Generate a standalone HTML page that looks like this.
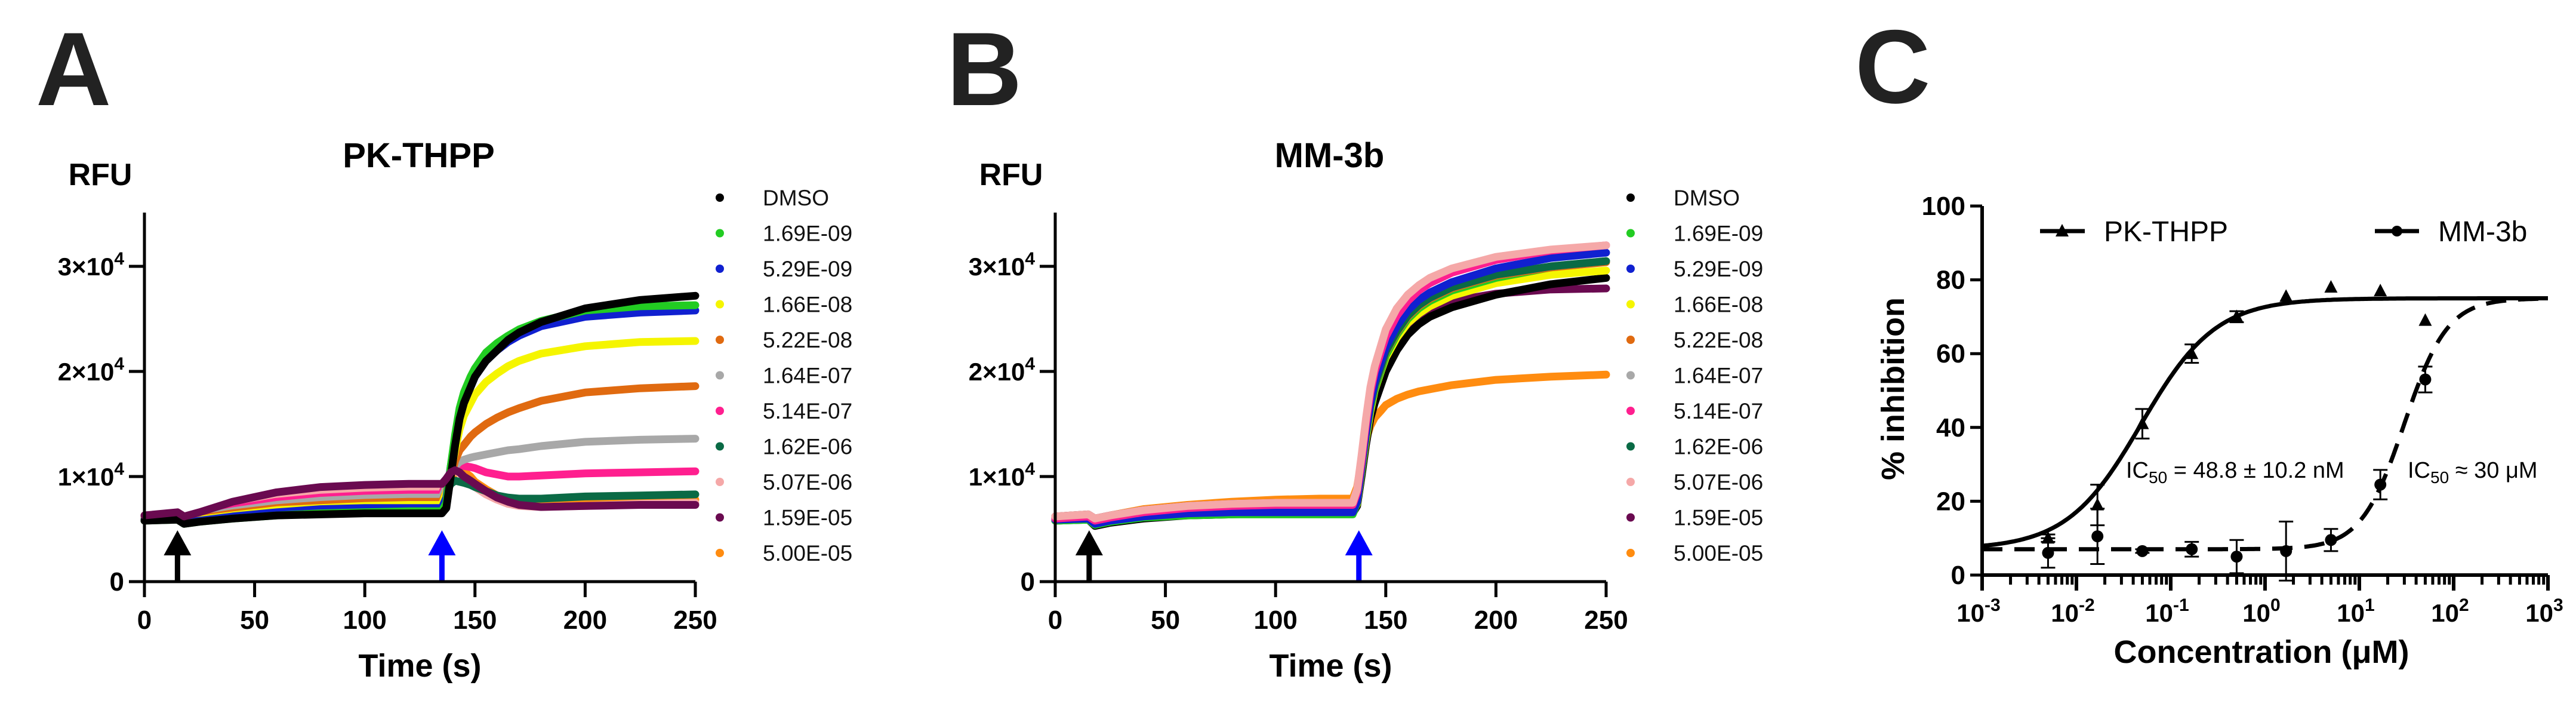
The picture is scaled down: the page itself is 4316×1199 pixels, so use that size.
<!DOCTYPE html>
<html><head><meta charset="utf-8">
<style>
html,body{margin:0;padding:0;background:#fff;}
svg{display:block;}
text{font-family:"Liberation Sans",Arial,sans-serif;}
</style></head>
<body>
<svg id="fig" width="4316" height="1199" viewBox="0 0 4316 1199" xmlns="http://www.w3.org/2000/svg">
<rect width="4316" height="1199" fill="#fff"/>
<g id="panelA"></g>
<g id="panelB"></g>
<g id="panelC"></g>
</svg>
<script>
// ---- Panels A/B data (RFU in thousands) ----
const times = [0,15,18,25,40,60,80,100,120,135,137,139,141,143,145,148,150,155,160,165,170,180,200,225,250];
const legendLabels = ["DMSO","1.69E-09","5.29E-09","1.66E-08","5.22E-08","1.64E-07","5.14E-07","1.62E-06","5.07E-06","1.59E-05","5.00E-05"];
const seriesColors = ["#000000","#22cc22","#1020d0","#f5f500","#e06a10","#a8a8a8","#ff1f8f","#0a6a45","#f5a8a8","#6a0a50","#ff8c10"];
const yTicksRFU = [0,1,2,3];
const xTicksTime = [0,50,100,150,200,250];
// Panel A series
const aDMSO = [5.8,5.9,5.5,5.7,6.0,6.3,6.4,6.5,6.5,6.5,7.0,10,13,15.5,17,18.5,19.5,21,22,23,23.7,24.7,26,26.8,27.2];
const aS1 = [5.8,5.9,5.5,5.7,6.0,6.3,6.5,6.6,6.7,6.7,7.5,11,14,16.5,18,19.5,20.3,21.8,22.7,23.4,24,24.8,25.8,26.2,26.3];
const aS2 = [5.9,6.0,5.6,5.8,6.2,6.6,6.9,7.0,7.0,7.0,8,11,13.5,15.5,17,18.5,19.5,21,22,22.8,23.4,24.3,25.2,25.6,25.8];
const aS3 = [6.0,6.1,5.7,5.9,6.3,6.8,7.0,7.2,7.3,7.3,8.5,10.5,12.5,14.5,15.8,17,17.8,19,19.8,20.5,21,21.7,22.4,22.8,22.9];
const aS4 = [6.0,6.2,5.8,6.0,6.5,7.0,7.3,7.5,7.6,7.6,8.5,10,11.5,12.5,13,13.8,14.2,15,15.6,16.1,16.5,17.2,18,18.4,18.6];
const aS5 = [6.1,6.3,5.9,6.1,6.7,7.3,7.7,7.9,8.0,8.0,9,10.2,11,11.4,11.6,11.8,11.9,12.1,12.3,12.5,12.6,12.9,13.3,13.5,13.6];
const aS6 = [6.2,6.4,6.0,6.2,6.9,7.6,8.0,8.2,8.3,8.3,9.5,10.5,11,11.1,11,10.9,10.8,10.4,10.2,10.0,10.0,10.1,10.3,10.4,10.5];
const aS7 = [6.1,6.3,5.9,6.1,6.7,7.2,7.5,7.6,7.7,7.7,8.5,9.3,9.6,9.5,9.4,9.2,9.0,8.6,8.2,8.0,7.9,7.9,8.1,8.2,8.3];
const aS8 = [6.3,6.5,6.1,6.4,7.2,8.0,8.5,8.7,8.8,8.8,9.5,10.3,10.5,10.3,10,9.5,9.0,8.3,7.8,7.4,7.2,7.1,7.2,7.4,7.5];
const aS9 = [6.3,6.6,6.2,6.6,7.6,8.5,9.0,9.2,9.3,9.3,9.8,10.4,10.6,10.4,10,9.6,9.3,8.6,8.0,7.6,7.3,7.1,7.2,7.3,7.3];
const aS10 = [6.1,6.3,5.9,6.2,6.7,7.0,7.2,7.3,7.4,7.4,8.3,9.5,10.5,10.8,10.5,10,9.5,8.8,8.2,7.8,7.6,7.6,7.7,7.8,7.8];
// Panel B series
const bDMSO = [5.8,5.9,5.3,5.6,6.0,6.3,6.4,6.5,6.5,6.5,7.2,10,13,15.5,17,18.8,20,22,23.5,24.5,25.2,26.1,27.3,28.3,28.9];
const bS1 = [5.8,5.9,5.4,5.7,6.1,6.3,6.4,6.4,6.4,6.4,7.5,10.5,13.8,16.5,18.3,20.2,21.5,23.5,25,26,26.7,27.7,28.9,29.9,30.5];
const bS2 = [5.9,6.0,5.5,5.8,6.2,6.5,6.6,6.6,6.6,6.6,7.6,11,14.2,17,19,21,22.3,24.3,25.8,26.8,27.5,28.5,29.8,30.8,31.3];
const bS3 = [5.9,6.0,5.5,5.8,6.2,6.5,6.6,6.6,6.6,6.6,7.4,10.5,13.5,16.2,18.2,20.1,21.3,23.2,24.6,25.5,26.2,27.2,28.4,29.2,29.6];
const bS4 = [5.9,6.1,5.6,5.9,6.3,6.6,6.8,6.8,6.8,6.8,7.6,10.8,14,16.8,18.6,20.5,21.8,23.7,25.2,26.2,26.9,27.9,29.1,29.9,30.4];
const bS5 = [6.0,6.1,5.7,6.0,6.4,6.7,6.9,7.0,7.0,7.0,7.8,11,14,16.8,18.7,20.6,21.9,23.8,25.3,26.3,27,28,29.2,30,30.5];
const bS6 = [6.0,6.2,5.8,6.1,6.6,7.0,7.2,7.3,7.3,7.3,8.5,11.5,15,18,20,22,23.3,25.3,26.7,27.7,28.4,29.4,30.6,31.5,32];
const bS7 = [6.0,6.1,5.7,6.0,6.4,6.7,6.9,7.0,7.0,7.0,7.8,11,14,16.8,18.7,20.6,21.9,23.8,25.3,26.3,27,28,29.2,30,30.5];
const bS8 = [6.2,6.4,6.0,6.3,6.8,7.2,7.4,7.5,7.5,7.5,8.8,12,15.5,18.5,20.5,22.6,24,26,27.3,28.2,28.9,29.8,30.9,31.6,32];
const bS9 = [6.2,6.4,6.0,6.3,6.8,7.2,7.4,7.5,7.5,7.5,8.3,11,14,16.5,18.3,20.1,21.3,23.1,24.4,25.3,25.9,26.7,27.4,27.8,27.9];
const bS10 = [6.2,6.4,6.0,6.3,6.9,7.3,7.6,7.8,7.9,7.9,9,11.5,13.5,14.8,15.6,16.3,16.8,17.4,17.8,18.1,18.3,18.7,19.2,19.5,19.7];
const seriesA = [aDMSO,aS1,aS2,aS3,aS4,aS5,aS6,aS7,aS8,aS9,aS10];
const seriesB = [bDMSO,bS1,bS2,bS3,bS4,bS5,bS6,bS7,bS8,bS9,bS10];
const drawOrderA = [10,8,7,6,5,4,3,2,1,0,9];
const drawOrderB = [10,9,0,3,1,4,5,7,2,6,8];
const arrowTimesA = [15,135];
const arrowTimesB = [15.4,137.8];

// ---- Panel C data ----
const conc = [0.005,0.0167,0.05,0.167,0.5,1.67,5,16.7,50];
const pkVals = [10,19,41,60,70,75.5,78,77,69];
const pkErr = [1,5.5,4,2.5,1.5,0,0,0,0];
const mmVals = [6,10.5,6.5,7,5,6.5,9.5,24.5,53];
const mmErr = [4,7.5,0.5,2,4.5,8,3,4,3.5];
const pkFit = [7,75,0.0488,1.1];   // bottom, top, IC50, hill
const mmFit = [7,75,30,1.9];
const yTicksC = [0,20,40,60,80,100];
const xTicksCExp = [-3,-2,-1,0,1,2,3];

const NS = "http://www.w3.org/2000/svg";
function mk(parent, tag, attrs, txt){
  const e = document.createElementNS(NS, tag);
  for (const k in attrs) e.setAttribute(k, attrs[k]);
  if (txt !== undefined) e.textContent = txt;
  parent.appendChild(e);
  return e;
}

function drawKinetic(g, off, letter, title, series, order, arrows){
  const x0 = 242 + off, x1 = 1165 + off, yb = 974, pxPer = 176; // per 1e4
  const sx = t => x0 + (t/250)*(x1-x0);
  const sy = v => yb - (v/10)*pxPer;
  let e;
  e = mk(g,"text",{x:60+off,y:176,"font-size":175,"font-weight":"bold",fill:"#222"},letter);
  
  
  e = mk(g,"text",{x:(x0+x1)/2-2,y:280,"font-size":58,"font-weight":"bold","text-anchor":"middle"},title);
  
  
  e = mk(g,"text",{x:168+off,y:310,"font-size":52,"font-weight":"bold","text-anchor":"middle"},"RFU");
  
  
  e = mk(g,"text",{x:(x0+x1)/2,y:1133,"font-size":54,"font-weight":"bold","text-anchor":"middle"},"Time (s)");
  
  
  const sg = mk(g,"g",{});
  
  
  order.forEach(i=>{
    const pts = times.map((t,j)=>sx(t).toFixed(1)+","+sy(series[i][j]).toFixed(1)).join(" ");
    const pl = mk(sg,"polyline",{points:pts,fill:"none",stroke:seriesColors[i],"stroke-width":13,"stroke-linejoin":"round","stroke-linecap":"round"});
    
    
  });
  arrows.forEach((t,k)=>{
    const ax = sx(t), col = k===0?"#000":"#0000ff";
    const a = mk(g,"path",{d:`M${ax-4.5},${yb} L${ax-4.5},${930} L${ax-23},${930} L${ax},${888} L${ax+23},${930} L${ax+4.5},${930} L${ax+4.5},${yb} Z`,fill:col});
    
    
  });
  const ax = mk(g,"path",{d:`M${x0},${356} L${x0},${yb} L${x1},${yb}`,fill:"none",stroke:"#000","stroke-width":5});
  
  
  yTicksRFU.forEach(v=>{
    const y = sy(v*10);
    mk(g,"line",{x1:x0-26,y1:y,x2:x0,y2:y,stroke:"#000","stroke-width":5});
    let lab;
    if (v===0){
      lab = mk(g,"text",{x:x0-34,y:y+15,"font-size":44,"font-weight":"bold","text-anchor":"end"},"0");
    } else {
      lab = mk(g,"text",{x:x0-34,y:y+15,"font-size":42,"font-weight":"bold","text-anchor":"end"});
      lab.appendChild(document.createTextNode(v+"×10"));
      const ts = document.createElementNS(NS,"tspan");
      ts.setAttribute("dy","-18"); ts.setAttribute("font-size","30"); ts.textContent="4";
      lab.appendChild(ts);
    }
    
    
  });
  xTicksTime.forEach(t=>{
    const x = sx(t);
    mk(g,"line",{x1:x,y1:yb,x2:x,y2:yb+26,stroke:"#000","stroke-width":5});
    const lab = mk(g,"text",{x:x,y:1053,"font-size":44,"font-weight":"bold","text-anchor":"middle"},String(t));
    
    
  });
  legendLabels.forEach((l,i)=>{
    const y = 331 + i*59.5;
    const d = mk(g,"circle",{cx:1206+off,cy:y,r:7,fill:seriesColors[i]});
    
    
    const tx = mk(g,"text",{x:1278+off,y:y+13,"font-size":37,fill:"#111"},l);
    
    
  });
}

drawKinetic(document.getElementById("panelA"),0,"A","PK-THPP",seriesA,drawOrderA,arrowTimesA);
drawKinetic(document.getElementById("panelB"),1526,"B","MM-3b",seriesB,drawOrderB,arrowTimesB);

// ---- Panel C ----
(function(){
  const g = document.getElementById("panelC");
  const x0 = 3321, x1 = 4269, yb = 963, yt = 345;
  const sx = c => x0 + (Math.log10(c)+3)/6*(x1-x0);
  const sy = v => yb - v/100*(yb-yt);
  let e;
  e = mk(g,"text",{x:3108,y:172,"font-size":175,"font-weight":"bold",fill:"#222"},"C");
  
  
  e = mk(g,"text",{x:3789,y:1110,"font-size":54,"font-weight":"bold","text-anchor":"middle"},"Concentration (μM)");
  
  
  e = mk(g,"text",{x:0,y:0,"font-size":54,"font-weight":"bold","text-anchor":"middle",transform:"translate(3190,651) rotate(-90)"},"% inhibition");
  
  
  function fitPath(p){
    let d="";
    for(let k=0;k<=300;k++){
      const lc = -3 + 6*k/300, c = Math.pow(10,lc);
      const v = p[0] + (p[1]-p[0])/(1+Math.pow(p[2]/c,p[3]));
      d += (k?"L":"M")+sx(c).toFixed(1)+","+sy(v).toFixed(1);
    }
    return d;
  }
  e = mk(g,"path",{d:fitPath(mmFit),fill:"none",stroke:"#000","stroke-width":7,"stroke-dasharray":"34,20"});
  
  
  e = mk(g,"path",{d:fitPath(pkFit),fill:"none",stroke:"#000","stroke-width":7});
  
  
  function errBar(x,v,err){
    if(err<=0) return;
    const a=sy(v+err), b=sy(v-err);
    mk(g,"path",{d:`M${x},${a} L${x},${b} M${x-12},${a} L${x+12},${a} M${x-12},${b} L${x+12},${b}`,stroke:"#000","stroke-width":3,fill:"none"});
  }
  conc.forEach((c,i)=>{
    const x=sx(c);
    errBar(x,pkVals[i],pkErr[i]);
    const y=sy(pkVals[i]);
    const t=mk(g,"path",{d:`M${x},${y-12} L${x+11},${y+9} L${x-11},${y+9} Z`,fill:"#000"});
    
    
  });
  conc.forEach((c,i)=>{
    const x=sx(c);
    errBar(x,mmVals[i],mmErr[i]);
    const p=mk(g,"circle",{cx:x,cy:sy(mmVals[i]),r:10,fill:"#000"});
    
    
  });
  e = mk(g,"path",{d:`M${x0},${yt} L${x0},${yb} L${x1},${yb}`,fill:"none",stroke:"#000","stroke-width":6});
  
  
  yTicksC.forEach(v=>{
    const y=sy(v);
    mk(g,"line",{x1:x0-20,y1:y,x2:x0,y2:y,stroke:"#000","stroke-width":5});
    const l=mk(g,"text",{x:x0-28,y:y+15,"font-size":44,"font-weight":"bold","text-anchor":"end"},String(v));
    
    
  });
  xTicksCExp.forEach((p,i)=>{
    const x=sx(Math.pow(10,p));
    mk(g,"line",{x1:x,y1:yb,x2:x,y2:yb+26,stroke:"#000","stroke-width":6});
    if(i<xTicksCExp.length-1){
      for(let m=2;m<=9;m++){
        const xm=sx(m*Math.pow(10,p));
        mk(g,"line",{x1:xm,y1:yb,x2:xm,y2:yb+16,stroke:"#000","stroke-width":5});
      }
    }
    const l=mk(g,"text",{x:x-6,y:1041,"font-size":42,"font-weight":"bold","text-anchor":"middle"});
    l.appendChild(document.createTextNode("10"));
    const ts=document.createElementNS(NS,"tspan");
    ts.setAttribute("dy","-18"); ts.setAttribute("font-size","30"); ts.textContent=String(p);
    l.appendChild(ts);
    
    
  });
  e = mk(g,"line",{x1:3418,y1:387,x2:3493,y2:387,stroke:"#000","stroke-width":7});
  
  
  mk(g,"path",{d:"M3455,375 L3466,396 L3444,396 Z",fill:"#000"});
  e = mk(g,"text",{x:3525,y:404,"font-size":48},"PK-THPP");
  
  
  e = mk(g,"line",{x1:3979,y1:387,x2:4053,y2:387,stroke:"#000","stroke-width":7});
  
  
  mk(g,"circle",{cx:4016,cy:387,r:9,fill:"#000"});
  e = mk(g,"text",{x:4085,y:404,"font-size":48},"MM-3b");
  
  
  function ic(x,txt){
    const t=mk(g,"text",{x:x,y:800,"font-size":38});
    t.appendChild(document.createTextNode("IC"));
    const s=document.createElementNS(NS,"tspan");
    s.setAttribute("dy","9"); s.setAttribute("font-size","28"); s.textContent="50";
    t.appendChild(s);
    const r=document.createElementNS(NS,"tspan");
    r.setAttribute("dy","-9"); r.textContent=txt;
    t.appendChild(r);
    return t;
  }
  e = ic(3562," = 48.8 ± 10.2 nM");
  
  
  e = ic(4034," ≈ 30 μM");
  
  
})();
</script>
</body></html>
